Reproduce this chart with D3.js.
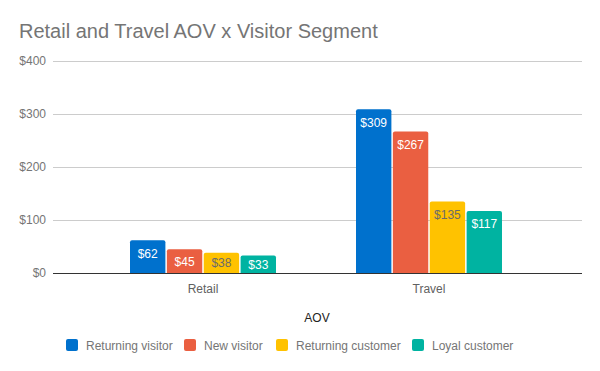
<!DOCTYPE html>
<html>
<head>
<meta charset="utf-8">
<script src="https://cdn.jsdelivr.net/npm/d3@7"></script>
<style>
  body { margin: 0; background: #fff; }
  svg { display: block; font-family: Arial, "Liberation Sans", sans-serif; }
</style>
</head>
<body>
<svg id="chart" width="600" height="371"></svg>
<script>
const categories = ['Retail', 'Travel'];
const seriesNames = ['Returning visitor', 'New visitor', 'Returning customer', 'Loyal customer'];
const seriesColors = ['#0071cd', '#ea5f41', '#ffc200', '#00b3a1'];
const labelColors = ['#fff', '#fff', '#6b6b6b', '#fff'];
const retailValues = [62, 45, 38, 33];
const travelValues = [309, 267, 135, 117];
const yTicks = [0, 100, 200, 300, 400];

const values = [retailValues, travelValues];

const svg = d3.select('#chart');
const plotLeft = 53, plotRight = 582, plotTop = 61, plotBottom = 273;

const y = d3.scaleLinear().domain([0, 400]).range([plotBottom, plotTop]);
const x0 = d3.scaleBand().domain(categories).range([90, 542])
  .paddingInner(0.354).paddingOuter(0.177);
const x1 = d3.scaleBand().domain(d3.range(seriesNames.length))
  .range([0, x0.bandwidth()]).paddingInner(0.04);

svg.append('text')
  .attr('x', 19).attr('y', 38)
  .attr('font-size', 20).attr('fill', '#757575')
  .text('Retail and Travel AOV x Visitor Segment');

// gridlines + tick labels
const grid = svg.append('g');
grid.selectAll('line').data(yTicks.filter(d => d > 0)).join('line')
  .attr('x1', plotLeft).attr('x2', plotRight)
  .attr('y1', d => y(d) + 0.5).attr('y2', d => y(d) + 0.5)
  .attr('stroke', '#cccccc');
grid.selectAll('text').data(yTicks).join('text')
  .attr('x', 46).attr('y', d => y(d) + 4)
  .attr('text-anchor', 'end').attr('font-size', 12).attr('fill', '#757575')
  .text(d => '$' + d);

// bars
const groups = svg.selectAll('g.group').data(categories).join('g')
  .attr('class', 'group')
  .attr('transform', d => `translate(${x0(d)},0)`);

groups.each(function (cat, ci) {
  const g = d3.select(this);
  const vals = values[ci];
  g.selectAll('path').data(vals).join('path')
    .attr('fill', (d, i) => seriesColors[i])
    .attr('d', (d, i) => {
      const bx = x1(i), bw = x1.bandwidth(), by = y(d), r = 2;
      return `M${bx},${plotBottom}V${by + r}Q${bx},${by} ${bx + r},${by}H${bx + bw - r}Q${bx + bw},${by} ${bx + bw},${by + r}V${plotBottom}Z`;
    });
  // label sits near the top, or centred when the bar is short
  g.selectAll('text').data(vals).join('text')
    .attr('x', (d, i) => x1(i) + x1.bandwidth() / 2)
    .attr('y', d => Math.min(y(d) + 13, (y(d) + plotBottom) / 2) + 4.5)
    .attr('text-anchor', 'middle').attr('font-size', 12)
    .attr('fill', (d, i) => labelColors[i])
    .text(d => '$' + d);
});

// baseline
svg.append('line')
  .attr('x1', plotLeft).attr('x2', plotRight)
  .attr('y1', plotBottom + 0.5).attr('y2', plotBottom + 0.5)
  .attr('stroke', '#333');

// category labels
svg.selectAll('text.cat').data(categories).join('text')
  .attr('class', 'cat')
  .attr('x', d => x0(d) + x0.bandwidth() / 2).attr('y', 293)
  .attr('text-anchor', 'middle').attr('font-size', 12).attr('fill', '#616161')
  .text(d => d);

svg.append('text')
  .attr('x', 317).attr('y', 322)
  .attr('text-anchor', 'middle').attr('font-size', 12).attr('fill', '#222')
  .text('AOV');

// legend
const legendX = [66, 184, 276, 412];
const legend = svg.selectAll('g.legend').data(seriesNames).join('g')
  .attr('class', 'legend')
  .attr('transform', (d, i) => `translate(${legendX[i]},339)`);
legend.append('rect')
  .attr('width', 12).attr('height', 12).attr('rx', 2)
  .attr('fill', (d, i) => seriesColors[i]);
legend.append('text')
  .attr('x', 20).attr('y', 10.5)
  .attr('font-size', 12).attr('fill', '#757575')
  .text(d => d);
</script>
</body>
</html>
